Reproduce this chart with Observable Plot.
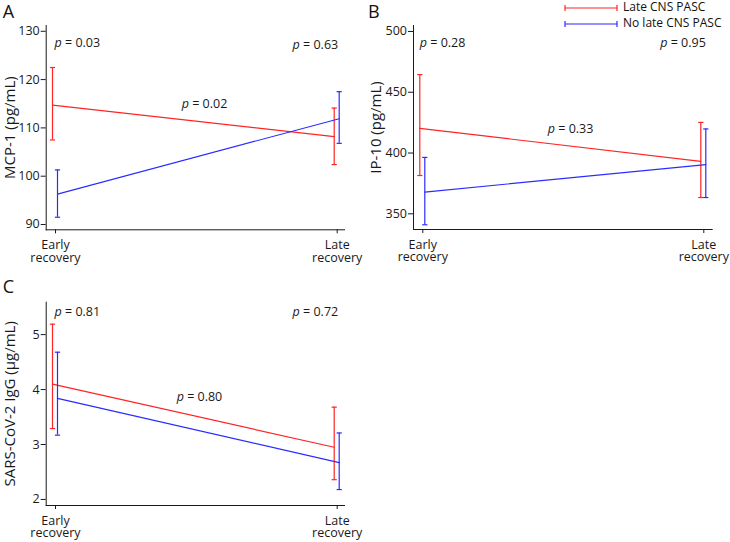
<!DOCTYPE html>
<html><head><meta charset="utf-8">
<script src="https://cdn.jsdelivr.net/npm/d3@7"></script>
<script src="https://cdn.jsdelivr.net/npm/@observablehq/plot@0.6"></script>
<style>
body{margin:0;background:#fff;font-family:"Open Sans",sans-serif;}
#wrap{position:relative;width:730px;height:542px;overflow:hidden;background:#fff;}
.panel{position:absolute;}
.plab{position:absolute;font-size:18px;line-height:18px;color:#111;font-family:"Open Sans",sans-serif;}
.leg{position:absolute;font-size:12px;line-height:13px;height:13px;color:#111;white-space:nowrap;}
.leg svg{vertical-align:middle;margin-right:4px;}
</style></head><body><div id="wrap"></div>
<script>
// ---- data ----
const timepoints = ["Early\nrecovery", "Late\nrecovery"];
const groups = ["Late CNS PASC", "No late CNS PASC"];
const panelLetters = ["A", "B", "C"];
const yTitles = ["MCP-1 (pg/mL)", "IP-10 (pg/mL)", "SARS-CoV-2 IgG (\u00b5g/mL)"];

const mcp1LateMean = [114.7, 108.2];
const mcp1LateLow  = [107.5, 102.4];
const mcp1LateHigh = [122.5, 114.1];
const mcp1NoMean   = [96.3, 111.9];
const mcp1NoLow    = [91.5, 106.8];
const mcp1NoHigh   = [101.3, 117.5];
const mcp1Ticks    = [90, 100, 110, 120, 130];
const mcp1P        = ["0.03", "0.02", "0.63"];

const ip10LateMean = [420.3, 393.1];
const ip10LateLow  = [381.5, 363.4];
const ip10LateHigh = [464.5, 425.2];
const ip10NoMean   = [367.9, 390.4];
const ip10NoLow    = [341.0, 363.4];
const ip10NoHigh   = [396.4, 419.8];
const ip10Ticks    = [350, 400, 450, 500];
const ip10P        = ["0.28", "0.33", "0.95"];

const iggLateMean = [4.10, 2.95];
const iggLateLow  = [3.29, 2.36];
const iggLateHigh = [5.19, 3.68];
const iggNoMean   = [3.84, 2.67];
const iggNoLow    = [3.17, 2.18];
const iggNoHigh   = [4.68, 3.21];
const iggTicks    = [2, 3, 4, 5];
const iggP        = ["0.81", "0.80", "0.72"];

// ---- style ----
const colors = ["#ff2424", "#2b2bff"];
const seriesDx = [-3, 2];
const ink = "#1a1a1a";
const FONT = "'Open Sans', sans-serif";

const capSymbol = {
  draw(ctx, size) { const w = Math.sqrt(size / Math.PI); ctx.moveTo(-w, 0); ctx.lineTo(w, 0); }
};

function rows(means, lows, highs) {
  return means.map((m, i) => ({t: i, m, lo: lows[i], hi: highs[i]}));
}

function panel(cfg) {
  const series = [rows(cfg.lateMean, cfg.lateLow, cfg.lateHigh), rows(cfg.noMean, cfg.noLow, cfg.noHigh)];
  const marks = [];
  series.forEach((d, k) => {
    const o = {stroke: colors[k], strokeWidth: 1.2, dx: seriesDx[k]};
    marks.push(Plot.line(d, {x: "t", y: "m", ...o}));
    marks.push(Plot.ruleX(d, {x: "t", y1: "lo", y2: "hi", ...o}));
    marks.push(Plot.dot(d, {x: "t", y: "hi", symbol: capSymbol, r: 2.6, fill: "none", ...o}));
    marks.push(Plot.dot(d, {x: "t", y: "lo", symbol: capSymbol, r: 2.6, fill: "none", ...o}));
  });
  marks.push(Plot.frame({anchor: "left", stroke: ink}));
  marks.push(Plot.frame({anchor: "bottom", stroke: ink}));
  marks.push(Plot.axisX({ticks: [0, 1], tickFormat: i => timepoints[i], tickSize: 4, tickPadding: 6, fontSize: 12.5, lineHeight: 1.02, label: null}));
  marks.push(Plot.axisY({ticks: cfg.ticks, tickFormat: d => String(d), tickSize: 5, tickPadding: 1.5, fontSize: 12.5, label: null}));
  marks.push(Plot.text([cfg.title], {text: d => d, frameAnchor: "left", textAnchor: "middle", dx: -(cfg.mL - cfg.titleX), rotate: -90, fontSize: 15, fill: ink}));
  const anchors = ["start", "middle", "end"];
  cfg.pvals.forEach((p, j) => {
    const pos = cfg.pPos[j];
    marks.push(Plot.text([p], {text: d => "p = " + d, x: () => pos[0], y: () => pos[1], textAnchor: anchors[j], dx: pos[2] || 0, fontSize: 12.5, fill: ink}));
  });
  const svg = Plot.plot({
    width: cfg.width, height: cfg.height,
    marginLeft: cfg.mL, marginRight: cfg.mR, marginTop: cfg.mT, marginBottom: cfg.mB,
    x: {domain: [0, 1], insetLeft: cfg.insL, insetRight: cfg.insR},
    y: {domain: cfg.yDomain},
    style: {fontFamily: FONT, fontSize: "12.5px", color: ink, background: "transparent", overflow: "visible"},
    marks
  });
  // italic p
  svg.querySelectorAll("text").forEach(t => {
    if (t.textContent.startsWith("p = ") && t.children.length === 0) {
      const rest = t.textContent.slice(1);
      t.textContent = "";
      const ts = document.createElementNS("http://www.w3.org/2000/svg", "tspan");
      ts.setAttribute("font-style", "italic");
      ts.textContent = "p";
      t.appendChild(ts);
      t.appendChild(document.createTextNode(rest));
    }
  });
  const div = document.createElement("div");
  div.className = "panel";
  div.style.left = cfg.left + "px";
  div.style.top = cfg.top + "px";
  div.appendChild(svg);
  document.getElementById("wrap").appendChild(div);
}

panel({left: 0, top: 0, width: 365, height: 270, mL: 45.7, mR: 21, mT: 25, mB: 40.7, insL: 9.3, insR: 7.3,
  yDomain: [88.9, 131.2], ticks: mcp1Ticks, title: yTitles[0], titleX: 9.5,
  lateMean: mcp1LateMean, lateLow: mcp1LateLow, lateHigh: mcp1LateHigh,
  noMean: mcp1NoMean, noLow: mcp1NoLow, noHigh: mcp1NoHigh,
  pvals: mcp1P, pPos: [[0, 127.5, -1], [0.529, 114.9], [1, 127.1, 1]]});

panel({left: 365, top: 0, width: 365, height: 270, mL: 48, mR: 18.3, mT: 25, mB: 41, insL: 9.3, insR: 8.4,
  yDomain: [337.1, 504.9], ticks: ip10Ticks, title: yTitles[1], titleX: 10.2,
  lateMean: ip10LateMean, lateLow: ip10LateLow, lateHigh: ip10LateHigh,
  noMean: ip10NoMean, noLow: ip10NoLow, noHigh: ip10NoHigh,
  pvals: ip10P, pPos: [[0, 490.1, -3], [0.526, 420.1], [1, 490.9, 2]]});

panel({left: 0, top: 270, width: 365, height: 272, mL: 45.7, mR: 21, mT: 31.7, mB: 37, insL: 9.3, insR: 7.3,
  yDomain: [1.89, 5.59], ticks: iggTicks, title: yTitles[2], titleX: 9.5,
  lateMean: iggLateMean, lateLow: iggLateLow, lateHigh: iggLateHigh,
  noMean: iggNoMean, noLow: iggNoLow, noHigh: iggNoHigh,
  pvals: iggP, pPos: [[0, 5.405, -1], [0.511, 3.873], [1, 5.405, 1]]});

// panel letters
const letterPos = [[2.7, 2.3], [368, 2.3], [2.7, 276.7]];
panelLetters.forEach((L, i) => {
  const d = document.createElement("div");
  d.className = "plab";
  d.textContent = L;
  d.style.left = letterPos[i][0] + "px";
  d.style.top = letterPos[i][1] + "px";
  document.getElementById("wrap").appendChild(d);
});

// legend
const legTops = [0, 16];
groups.forEach((g, k) => {
  const d = document.createElement("div");
  d.className = "leg";
  d.style.left = "563px";
  d.style.top = legTops[k] + "px";
  d.innerHTML = `<svg width="56" height="8"><g stroke="${colors[k]}" stroke-width="1.2" fill="none">
    <line x1="2" y1="4" x2="54" y2="4"/><line x1="2" y1="1" x2="2" y2="7"/><line x1="54" y1="1" x2="54" y2="7"/></g></svg>${g}`;
  document.getElementById("wrap").appendChild(d);
});
</script>
</body></html>
